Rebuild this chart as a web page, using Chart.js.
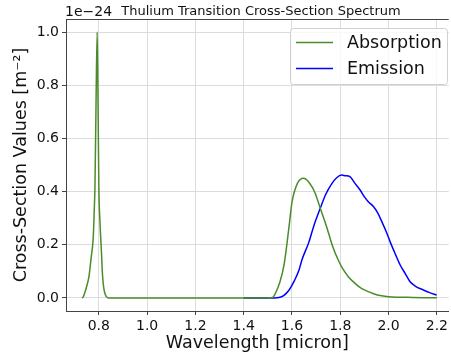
<!DOCTYPE html>
<html>
<head>
<meta charset="utf-8">
<script src="https://cdn.jsdelivr.net/npm/chart.js@4"></script>
<style>
  html, body { margin: 0; padding: 0; background: #fff; }
  #wrap { width: 451px; height: 354px; }
</style>
</head>
<body>
<div id="wrap"><canvas id="spectrumChart" width="451" height="354"></canvas></div>
<script>
// data (values in units of 1e-24 m^-2)
const absWavelength = [0.73, 0.735, 0.742, 0.75, 0.759, 0.768, 0.777, 0.781, 0.784, 0.788, 0.793, 0.796, 0.80, 0.805, 0.811, 0.815, 0.82, 0.826, 0.832, 0.84,
  0.9, 1.0, 1.2, 1.4, 1.5, 1.52, 1.53, 1.55, 1.567, 1.588, 1.60, 1.622, 1.648, 1.67, 1.696, 1.717, 1.739, 1.751, 1.77,
  1.792, 1.81, 1.835, 1.861, 1.889, 1.916, 1.95, 1.971, 2.0, 2.1, 2.2];
const absValues = [0, 0.003, 0.02, 0.045, 0.08, 0.15, 0.23, 0.33, 0.42, 0.7, 1.0, 0.8, 0.42, 0.28, 0.17, 0.09, 0.04, 0.015, 0.004, 0,
  0, 0, 0, 0, 0, 0.002, 0.015, 0.06, 0.124, 0.27, 0.36, 0.43, 0.45, 0.435, 0.394, 0.337, 0.28, 0.245, 0.19,
  0.142, 0.11, 0.078, 0.055, 0.035, 0.024, 0.012, 0.008, 0.005, 0.002, 0.001];

const emWavelength = [1.4, 1.5, 1.546, 1.567, 1.588, 1.61, 1.629, 1.641, 1.67, 1.69, 1.717, 1.74, 1.765, 1.785, 1.806, 1.82, 1.84, 1.86, 1.882, 1.9,
  1.916, 1.938, 1.955, 1.972, 1.99, 2.007, 2.028, 2.048, 2.07, 2.089, 2.11, 2.144, 2.17, 2.199];
const emValues = [0, 0, 0.002, 0.01, 0.03, 0.065, 0.105, 0.143, 0.21, 0.27, 0.337, 0.39, 0.43, 0.452, 0.462, 0.46, 0.456, 0.432, 0.406, 0.38,
  0.362, 0.343, 0.32, 0.287, 0.25, 0.21, 0.165, 0.124, 0.09, 0.061, 0.045, 0.03, 0.02, 0.011];

const xTicks = [0.8, 1.0, 1.2, 1.4, 1.6, 1.8, 2.0, 2.2];
const yTicks = [0.0, 0.2, 0.4, 0.6, 0.8, 1.0];

const FONT = "'DejaVu Sans', sans-serif";
const GRID = '#dcdcdc';
const SPINE = '#444';

// title, offset text, top spine and boxed legend, drawn like matplotlib does
const decorations = {
  id: 'decorations',
  afterDraw(chart) {
    const ctx = chart.ctx;
    const area = chart.chartArea;
    ctx.save();
    // top spine
    ctx.strokeStyle = SPINE;
    ctx.lineWidth = 1;
    ctx.beginPath();
    ctx.moveTo(area.left, area.top + 0.5);
    ctx.lineTo(area.right, area.top + 0.5);
    ctx.stroke();

    ctx.fillStyle = '#111';
    ctx.textBaseline = 'alphabetic';
    ctx.font = '13px ' + FONT;
    ctx.textAlign = 'center';
    ctx.fillText('Thulium Transition Cross-Section Spectrum', 261, 15);
    ctx.font = '14px ' + FONT;
    ctx.textAlign = 'left';
    ctx.fillText('1e\u221224', 65, 16);

    // legend box
    const lx = 290, ly = 28, lw = 157, lh = 56;
    ctx.fillStyle = 'rgba(255,255,255,0.8)';
    ctx.strokeStyle = '#d0d0d0';
    ctx.lineWidth = 1;
    ctx.beginPath();
    ctx.roundRect(lx + 0.5, ly + 0.5, lw, lh, 3);
    ctx.fill();
    ctx.stroke();
    ctx.font = '17.5px ' + FONT;
    ctx.textBaseline = 'middle';
    chart.data.datasets.forEach((ds, i) => {
      const y = 42.5 + i * 26;
      ctx.strokeStyle = ds.borderColor;
      ctx.lineWidth = 1.5;
      ctx.beginPath();
      ctx.moveTo(296, y);
      ctx.lineTo(333, y);
      ctx.stroke();
      ctx.fillStyle = '#111';
      ctx.fillText(ds.label, 347, y + 1);
    });
    ctx.restore();
  }
};

new Chart(document.getElementById('spectrumChart'), {
  type: 'line',
  data: {
    datasets: [
      {
        label: 'Absorption',
        data: absWavelength.map((w, i) => ({ x: w, y: absValues[i] })),
        borderColor: '#4a8c2a',
        borderWidth: 1.5,
        pointRadius: 0,
        cubicInterpolationMode: 'monotone',
        fill: false
      },
      {
        label: 'Emission',
        data: emWavelength.map((w, i) => ({ x: w, y: emValues[i] })),
        borderColor: '#0000ff',
        borderWidth: 1.5,
        pointRadius: 0,
        cubicInterpolationMode: 'monotone',
        fill: false
      }
    ]
  },
  options: {
    responsive: false,
    animation: false,
    layout: { padding: { top: 19, right: 0, left: 0, bottom: 0 } },
    plugins: {
      legend: { display: false },
      title: { display: false },
      tooltip: { enabled: false }
    },
    scales: {
      x: {
        type: 'linear',
        min: 0.664,
        max: 2.249,
        afterBuildTicks: scale => { scale.ticks = xTicks.map(v => ({ value: v })); },
        afterFit: scale => { scale.height = 43; },
        grid: { color: GRID, tickColor: SPINE, tickLength: 4 },
        border: { color: SPINE, width: 1 },
        ticks: {
          color: '#111',
          font: { family: FONT, size: 14 },
          padding: 3,
          maxRotation: 0,
          callback: v => v.toFixed(1)
        },
        title: {
          display: true,
          text: 'Wavelength [micron]',
          color: '#111',
          font: { family: FONT, size: 17.5 },
          padding: { top: 0, bottom: 0 }
        }
      },
      y: {
        type: 'linear',
        min: -0.049,
        max: 1.049,
        afterBuildTicks: scale => { scale.ticks = yTicks.map(v => ({ value: v })); },
        afterFit: scale => { scale.width = 66; },
        grid: { color: GRID, tickColor: SPINE, tickLength: 4 },
        border: { color: SPINE, width: 1 },
        ticks: {
          color: '#111',
          font: { family: FONT, size: 14 },
          padding: 3,
          callback: v => v.toFixed(1)
        },
        title: {
          display: true,
          text: 'Cross-Section Values [m\u207B\u00B2]',
          color: '#111',
          font: { family: FONT, size: 17.5 },
          padding: { top: 11, bottom: 0 }
        }
      }
    }
  },
  plugins: [decorations]
});
</script>
</body>
</html>
